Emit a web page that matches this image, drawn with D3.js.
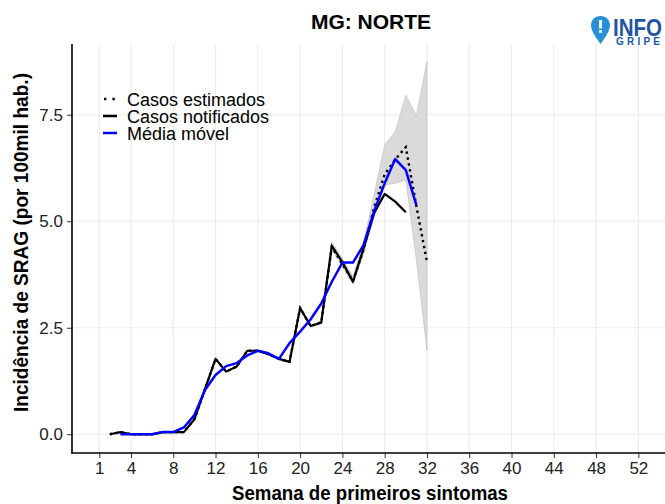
<!DOCTYPE html>
<html><head><meta charset="utf-8">
<script src="https://cdn.jsdelivr.net/npm/d3@7"></script>
<style>
body{margin:0;background:#fff;}
svg{display:block;font-family:"Liberation Sans", Arial, sans-serif;}
</style></head>
<body><svg id="c" width="665" height="504"></svg>
<script>
// ---- data ----
const notifWeeks = [2,3,4,5,6,7,8,9,10,11,12,13,14,15,16,17,18,19,20,21,22,23,24,25,26,27,28,29,30];
const notifVals  = [0,0.05,0,0,0,0.05,0.05,0.05,0.35,1.06,1.77,1.47,1.59,1.96,1.96,1.88,1.77,1.70,2.96,2.54,2.62,4.42,4.04,3.58,4.36,5.19,5.64,5.46,5.21];
const estWeeks = [2,3,4,5,6,7,8,9,10,11,12,13,14,15,16,17,18,19,20,21,22,23,24,25,26,27,28,29,30,31,32];
const estVals  = [0,0.05,0,0,0,0.05,0.05,0.05,0.35,1.06,1.77,1.47,1.59,1.96,1.96,1.88,1.77,1.70,2.96,2.54,2.63,4.40,3.99,3.60,4.33,5.32,6.10,6.45,6.74,5.35,4.05];
const mmWeeks = [3,4,5,6,7,8,9,10,11,12,13,14,15,16,17,18,19,20,21,22,23,24,25,26,27,28,29,30,31];
const mmVals  = [0,0,0,0,0.05,0.05,0.16,0.45,1.04,1.39,1.60,1.67,1.85,1.96,1.90,1.77,2.14,2.41,2.70,3.07,3.58,4.03,4.03,4.44,5.23,5.89,6.46,6.20,5.38];
const bandWeeks = [22,23,24,25,26,27,28,29,30,31,32];
const bandLow  = [2.60,4.34,3.93,3.52,4.24,5.10,5.85,5.89,5.97,4.10,1.98];
const bandHigh = [2.67,4.52,4.12,3.70,4.50,5.62,6.79,7.10,7.96,7.47,8.75];
const xTicks = [1,4,8,12,16,20,24,28,32,36,40,44,48,52];
const yTicks = [0,2.5,5,7.5];
const legendLabels = ["Casos estimados","Casos notificados","Média móvel"];
const title = "MG: NORTE";
const xTitle = "Semana de primeiros sintomas";
const yTitle = "Incidência de SRAG (por 100mil hab.)";

// ---- layout ----
const svg = d3.select("#c");
const L = 72, R = 665, T = 44, B = 453;
const x = d3.scaleLinear().domain([-1.58, 54.52]).range([L, R]);
const y = d3.scaleLinear().domain([-0.44, 9.16]).range([B, T]);

// grid
const g = svg.append("g");
g.selectAll(".vg").data(xTicks).join("line")
  .attr("x1", d=>x(d)).attr("x2", d=>x(d)).attr("y1", T).attr("y2", B)
  .attr("stroke", "#ebebeb").attr("stroke-width", 1.1);
g.selectAll(".hg").data(yTicks).join("line")
  .attr("x1", L).attr("x2", R).attr("y1", d=>y(d)).attr("y2", d=>y(d))
  .attr("stroke", "#ebebeb").attr("stroke-width", 1.1);

// band
const band = bandWeeks.map((w,i)=>({w, lo:bandLow[i], hi:bandHigh[i]}));
svg.append("path").datum(band)
  .attr("d", d3.area().x(d=>x(d.w)).y0(d=>y(d.lo)).y1(d=>y(d.hi)))
  .attr("fill", "#dadada").attr("stroke", "#b8b8b8").attr("stroke-width", 0.6);

const line = d3.line().x(d=>x(d[0])).y(d=>y(d[1]));
// notified
svg.append("path").datum(notifWeeks.map((w,i)=>[w, notifVals[i]]))
  .attr("d", line).attr("fill","none").attr("stroke","#000").attr("stroke-width",2.2)
  .attr("stroke-linejoin","round");
// estimated (dotted)
svg.append("path").datum(estWeeks.map((w,i)=>[w, estVals[i]]))
  .attr("d", line).attr("fill","none").attr("stroke","#000").attr("stroke-width",2.4)
  .attr("stroke-dasharray","2.4 3.6");
// moving average
svg.append("path").datum(mmWeeks.map((w,i)=>[w, mmVals[i]]))
  .attr("d", line).attr("fill","none").attr("stroke","#0000ff").attr("stroke-width",2.5)
  .attr("stroke-linejoin","round");

// axes
const xa = svg.append("g").attr("transform", `translate(0,${B})`)
  .call(d3.axisBottom(x).tickValues(xTicks).tickSize(5).tickPadding(4).tickFormat(d3.format("d")));
const ya = svg.append("g").attr("transform", `translate(${L},0)`)
  .call(d3.axisLeft(y).tickValues(yTicks).tickSize(5).tickPadding(4).tickFormat(d3.format(".1f")));
[xa, ya].forEach(a=>{
  a.select(".domain").remove();
  a.selectAll(".tick line").attr("stroke","#333").attr("stroke-width",1);
  a.selectAll(".tick text").attr("fill","#222").style("font-size","17px")
   .style("font-family","'Liberation Sans', Arial, sans-serif");
});
svg.append("line").attr("x1",L).attr("x2",L).attr("y1",T).attr("y2",B+0.5)
  .attr("stroke","#000").attr("stroke-width",1.6);
svg.append("line").attr("x1",L-0.8).attr("x2",R).attr("y1",B).attr("y2",B)
  .attr("stroke","#000").attr("stroke-width",1.6);

// titles
svg.append("text").attr("x", 371).attr("y", 29).attr("text-anchor","middle")
  .style("font-size","21px").style("font-weight","bold").attr("fill","#000").text(title);
svg.append("text").attr("x", 370).attr("y", 500).attr("text-anchor","middle")
  .style("font-size","20px").style("font-weight","bold").attr("fill","#000")
  .attr("textLength",276).attr("lengthAdjust","spacingAndGlyphs").text(xTitle);
svg.append("text").attr("transform", `translate(28,242.5) rotate(-90)`)
  .attr("text-anchor","middle").style("font-size","20px").style("font-weight","bold")
  .attr("fill","#000").attr("textLength",339).attr("lengthAdjust","spacingAndGlyphs").text(yTitle);

// legend
const lg = svg.append("g").attr("transform","translate(103,99)");
legendLabels.forEach((lab,i)=>{
  const yy = i*17;
  const ln = lg.append("line").attr("x1",0).attr("x2",14).attr("y1",yy).attr("y2",yy)
    .attr("stroke", i===2 ? "#0000ff" : "#000").attr("stroke-width", i===0?2.4:2.5);
  if(i===0) ln.attr("stroke-dasharray","2.4 6").attr("x1",1);
  lg.append("text").attr("x",24).attr("y",yy+6.5).style("font-size","18px")
    .attr("fill","#000").text(lab);
});

// logo
const logo = svg.append("g").attr("transform","translate(591,16)");
logo.append("path")
  .attr("d","M9.5,0 C3.8,0 0,4.2 0,9.5 C0,16 9.5,28 9.5,28 C9.5,28 19,16 19,9.5 C19,4.2 15.2,0 9.5,0 Z")
  .attr("fill","#2b8fd8");
logo.append("rect").attr("x",8.1).attr("y",4).attr("width",2.8).attr("height",8.5).attr("fill","#fff");
logo.append("rect").attr("x",8.1).attr("y",14).attr("width",2.8).attr("height",2.8).attr("fill","#fff");
logo.append("text").attr("x",22).attr("y",19.5).style("font-size","24px").style("font-weight","900")
  .attr("fill","#1f56a0").attr("textLength",49).attr("lengthAdjust","spacingAndGlyphs").text("INFO");
logo.append("text").attr("x",25).attr("y",28.5).style("font-size","10px").style("font-weight","bold")
  .attr("fill","#1f56a0").attr("textLength",44).text("GRIPE");
</script>
</body></html>
